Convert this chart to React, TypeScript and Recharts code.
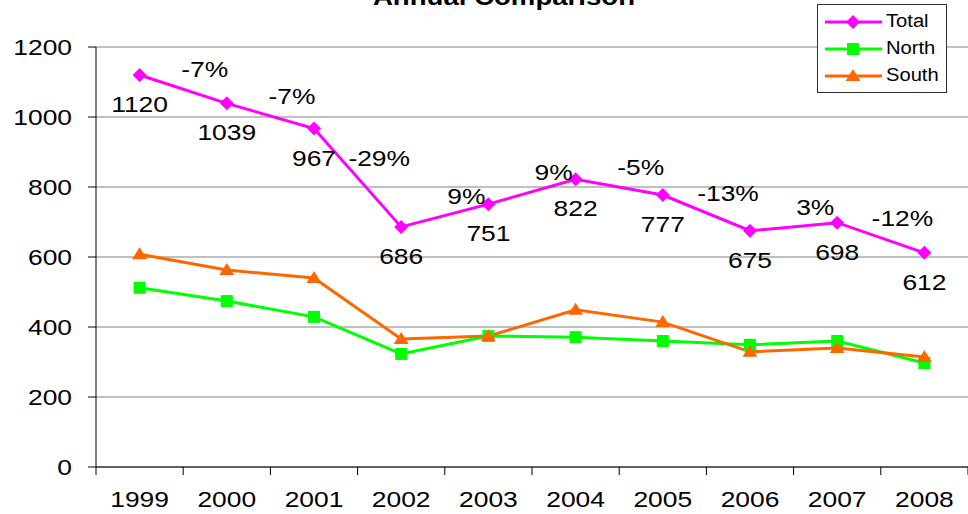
import React from 'react';
import { LineChart, Line, XAxis, YAxis, CartesianGrid, Legend, LabelList } from 'recharts';

const FONT = '"Liberation Sans", Arial, sans-serif';

const years = ['1999', '2000', '2001', '2002', '2003', '2004', '2005', '2006', '2007', '2008'];
const total = [1120, 1039, 967, 686, 751, 822, 777, 675, 698, 612];
const north = [512, 474, 429, 323, 374, 371, 360, 349, 360, 297];
const south = [608, 563, 540, 366, 374, 449, 414, 329, 340, 314];
const changes = ['', '-7%', '-7%', '-29%', '9%', '9%', '-5%', '-13%', '3%', '-12%'];
const yTicks = [0, 200, 400, 600, 800, 1000, 1200];
const legendOrder = ['total', 'north', 'south'];

const COLORS = { total: '#FF00FF', north: '#00FF00', south: '#FF6600' };

const data = years.map((year, i) => ({
  year,
  total: total[i],
  north: north[i],
  south: south[i],
  // halfway between two totals, used only to place the % change label
  mid: i === 0 ? null : (total[i - 1] + total[i]) / 2,
  change: changes[i],
}));

const Txt = ({ x, y, anchor = 'middle', size = 22, sx = 1.2, children }: any) => (
  <text
    transform={`translate(${x},${y}) scale(${sx},1)`}
    textAnchor={anchor}
    fontFamily={FONT}
    fontSize={size}
    fill="#000"
  >
    {children}
  </text>
);

const marker = (key: string, cx: number, cy: number) => {
  if (key === 'total') {
    return <polygon points={`${cx},${cy - 7} ${cx + 7},${cy} ${cx},${cy + 7} ${cx - 7},${cy}`} fill={COLORS.total} />;
  }
  if (key === 'north') {
    return <rect x={cx - 6} y={cy - 6} width={12} height={12} fill={COLORS.north} />;
  }
  return <polygon points={`${cx},${cy - 7} ${cx + 7.5},${cy + 5} ${cx - 7.5},${cy + 5}`} fill={COLORS.south} />;
};

const makeDot = (key: string) => (props: any) => {
  const { cx, cy, index } = props;
  if (cx == null || cy == null) return <g key={index} />;
  return <g key={index}>{marker(key, cx, cy)}</g>;
};

const XTick = ({ x, y, payload, index }: any) => {
  const half = payload.offset || 0;
  return (
    <g>
      <line x1={x - half} x2={x - half} y1={y} y2={y + 8} stroke="#000" />
      {index === years.length - 1 && <line x1={x + half} x2={x + half} y1={y} y2={y + 8} stroke="#000" />}
      <Txt x={x} y={y + 40}>{payload.value}</Txt>
    </g>
  );
};

const YTick = ({ x, y, payload }: any) => (
  <Txt x={x} y={y + 8} anchor="end">{payload.value}</Txt>
);

const ValueLabel = ({ x, y, value }: any) => (
  <Txt x={x} y={y + 37}>{value}</Txt>
);

const ChangeLabel = ({ x, y, index }: any) => {
  if (y == null || !changes[index]) return null;
  return <Txt x={x - 22} y={y - 12}>{changes[index]}</Txt>;
};

const LegendBox = ({ payload }: any) => {
  const items = (payload || [])
    .filter((p: any) => p.type !== 'none')
    .sort((a: any, b: any) => legendOrder.indexOf(a.dataKey) - legendOrder.indexOf(b.dataKey));
  return (
    <div style={{ border: '1px solid #333', background: '#fff', width: 128, padding: '3px 0', fontFamily: FONT, fontSize: 18 }}>
      {items.map((p: any) => (
        <div key={p.dataKey} style={{ display: 'flex', alignItems: 'center', height: 27 }}>
          <svg width={68} height={20}>
            <line x1={7} x2={64} y1={10} y2={10} stroke={p.color} strokeWidth={3} />
            {marker(p.dataKey, 35, 10)}
          </svg>
          <span style={{ display: 'inline-block', transform: 'scaleX(1.12)', transformOrigin: 'left center' }}>{p.value}</span>
        </div>
      ))}
    </div>
  );
};

const App: React.FC = () => {
  return (
    <div style={{ position: 'absolute', left: 0, top: 0, width: 968, height: 514, background: '#fff' }}>
      <svg width={968} height={20} style={{ position: 'absolute', left: 0, top: 0, zIndex: 1 }}>
        <text
          transform="translate(504,5) scale(1.15,1)"
          textAnchor="middle"
          fontFamily={FONT}
          fontSize={24}
          fontWeight="bold"
        >
          Annual Comparison
        </text>
      </svg>
      <LineChart width={968} height={514} data={data} margin={{ top: 47, right: 0, bottom: 0, left: 0 }}>
        <CartesianGrid vertical={false} stroke="#808080" strokeOpacity={1} />
        <XAxis
          dataKey="year"
          scale="band"
          height={47}
          interval={0}
          tickLine={false}
          tickSize={0}
          tickMargin={0}
          axisLine={{ stroke: '#000' }}
          tick={<XTick />}
        />
        <YAxis
          domain={[0, 1200]}
          ticks={yTicks}
          width={96}
          tickSize={8}
          tickMargin={16}
          axisLine={{ stroke: '#000' }}
          tickLine={{ stroke: '#000' }}
          tick={<YTick />}
        />
        <Legend
          layout="vertical"
          align="center"
          verticalAlign="middle"
          content={<LegendBox />}
          wrapperStyle={{ position: 'absolute', left: 817, top: 4, width: 130, height: 84 }}
        />
        <Line dataKey="total" name="Total" stroke={COLORS.total} strokeWidth={3} dot={makeDot('total')} activeDot={false} isAnimationActive={false}>
          <LabelList dataKey="total" content={<ValueLabel />} />
        </Line>
        <Line dataKey="north" name="North" stroke={COLORS.north} strokeWidth={3} dot={makeDot('north')} activeDot={false} isAnimationActive={false} />
        <Line dataKey="south" name="South" stroke={COLORS.south} strokeWidth={3} dot={makeDot('south')} activeDot={false} isAnimationActive={false} />
        <Line dataKey="mid" stroke="none" dot={false} activeDot={false} legendType="none" isAnimationActive={false}>
          <LabelList dataKey="mid" content={<ChangeLabel />} />
        </Line>
      </LineChart>
    </div>
  );
};

export default App;
